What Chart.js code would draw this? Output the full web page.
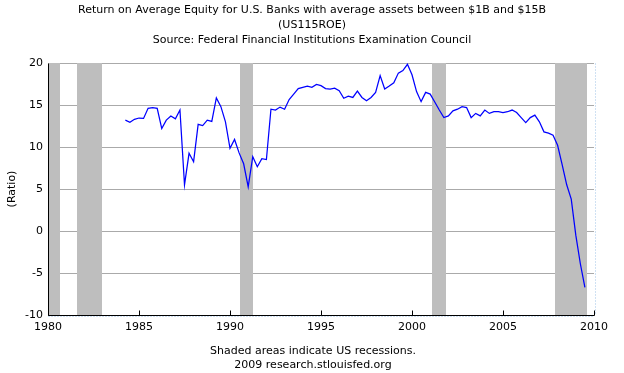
<!DOCTYPE html>
<html>
<head>
<meta charset="utf-8">
<script src="https://cdn.jsdelivr.net/npm/chart.js@4.4.1/dist/chart.umd.min.js"></script>
<style>
  html, body { margin: 0; padding: 0; background: #fff; }
  #wrap { width: 624px; height: 373px; }
</style>
</head>
<body>
<div id="wrap"><canvas id="roeChart" width="624" height="373"></canvas></div>
<script>
// Return on average equity (ratio), quarterly, 1984 Q1 .. 2009 Q2
const firstYear = 1984;
const roe = [
  13.2, 12.95, 13.3, 13.45, 13.4, 14.6, 14.7, 14.6, 12.2, 13.2,
  13.7, 13.35, 14.4, 5.5, 9.25, 8.25, 12.7, 12.55, 13.2, 13.05,
  15.85, 14.8, 13.0, 9.85, 10.9, 9.3, 8.0, 5.25, 8.85, 7.65,
  8.6, 8.5, 14.5, 14.4, 14.75, 14.5, 15.65, 16.3, 16.95, 17.1,
  17.25, 17.1, 17.45, 17.3, 16.95, 16.9, 17.0, 16.7, 15.8, 16.05,
  15.9, 16.65, 15.9, 15.5, 15.9, 16.5, 18.5, 16.9, 17.25, 17.65,
  18.8, 19.1, 19.85, 18.6, 16.6, 15.4, 16.5, 16.3, 15.35, 14.4,
  13.5, 13.7, 14.3, 14.5, 14.8, 14.7, 13.5, 14.0, 13.7, 14.4,
  14.0, 14.2, 14.2, 14.1, 14.2, 14.4, 14.1, 13.5, 12.9, 13.5,
  13.8, 13.0, 11.8, 11.65, 11.4, 10.2, 7.9, 5.5, 3.8, -0.5,
  -3.9, -6.7
];

// US recessions (decimal years)
const recessionStart = [1980.0, 1981.6, 1990.55, 2001.1, 2007.86];
const recessionEnd   = [1980.65, 1982.95, 1991.25, 2001.85, 2009.64];

const xTicks = [1980, 1985, 1990, 1995, 2000, 2005, 2010];
const yTicks = [-10, -5, 0, 5, 10, 15, 20];

const titleLines = [
  'Return on Average Equity for U.S. Banks with average assets between $1B and $15B',
  '(US115ROE)',
  'Source: Federal Financial Institutions Examination Council'
];
const noteLines = [
  'Shaded areas indicate US recessions.',
  '2009 research.stlouisfed.org'
];

const FONT = '"DejaVu Sans", Verdana, sans-serif';

// points sit at the end of each quarter
const points = roe.map((v, i) => ({ x: firstYear + (i + 1) / 4, y: v }));

const recessionBands = {
  id: 'recessionBands',
  beforeDatasetsDraw(chart) {
    const { ctx, chartArea, scales: { x } } = chart;
    ctx.save();
    ctx.fillStyle = '#bebebe';
    recessionStart.forEach((s, i) => {
      const x0 = Math.round(x.getPixelForValue(s));
      const x1 = Math.round(x.getPixelForValue(recessionEnd[i]));
      ctx.fillRect(x0, chartArea.top, x1 - x0, chartArea.bottom - chartArea.top);
    });
    ctx.restore();
  }
};

const frame = {
  id: 'frame',
  afterDatasetsDraw(chart) {
    const { ctx, chartArea: a, scales: { x } } = chart;
    const L = Math.round(a.left) + 0.5, R = Math.round(a.right) + 0.5;
    const T = Math.round(a.top) + 0.5, B = Math.round(a.bottom) + 0.5;
    ctx.save();
    // dotted light blue edge lines
    ctx.strokeStyle = '#9fc2e6';
    ctx.lineWidth = 1;
    ctx.setLineDash([1, 2]);
    ctx.beginPath();
    ctx.moveTo(R + 1, T); ctx.lineTo(R + 1, B);
    ctx.moveTo(L, B + 1); ctx.lineTo(R, B + 1);
    ctx.stroke();
    ctx.setLineDash([]);
    // axes
    ctx.strokeStyle = '#000';
    ctx.beginPath();
    ctx.moveTo(L, T); ctx.lineTo(L, B); ctx.lineTo(R, B);
    // inward tick marks
    xTicks.forEach(t => {
      const px = Math.round(x.getPixelForValue(t)) + 0.5;
      ctx.moveTo(px, B); ctx.lineTo(px, B - 5);
    });
    ctx.stroke();
    ctx.restore();
  }
};

const texts = {
  id: 'texts',
  afterDraw(chart) {
    const { ctx } = chart;
    ctx.save();
    ctx.fillStyle = '#000';
    ctx.font = '11px ' + FONT;
    ctx.textAlign = 'center';
    ctx.textBaseline = 'middle';
    titleLines.forEach((t, i) => ctx.fillText(t, 312, 10 + i * 15));
    noteLines.forEach((t, i) => ctx.fillText(t, 313, 351 + i * 14));
    ctx.restore();
  }
};

new Chart(document.getElementById('roeChart'), {
  type: 'line',
  data: {
    datasets: [{
      label: 'US115ROE',
      data: points,
      borderColor: '#0000ff',
      borderWidth: 1.25,
      pointRadius: 0,
      tension: 0,
      fill: false
    }]
  },
  options: {
    responsive: false,
    animation: false,
    devicePixelRatio: 1,
    layout: { padding: { top: 63, right: 30, left: 0, bottom: 0 } },
    plugins: {
      legend: { display: false },
      tooltip: { enabled: false },
      title: { display: false }
    },
    scales: {
      x: {
        type: 'linear',
        min: 1980,
        max: 2010,
        afterBuildTicks: s => { s.ticks = xTicks.map(v => ({ value: v })); },
        afterFit: s => { s.height = 58; },
        grid: { display: false, drawTicks: false },
        border: { display: false },
        ticks: {
          color: '#000',
          padding: 6,
          maxRotation: 0,
          font: { family: FONT, size: 11 },
          callback: v => String(v)
        }
      },
      y: {
        min: -10,
        max: 20,
        afterBuildTicks: s => { s.ticks = yTicks.map(v => ({ value: v })); },
        afterFit: s => { s.width = 48; },
        grid: { color: '#aaaaaa', drawTicks: false },
        border: { display: false },
        ticks: {
          color: '#000',
          padding: 5,
          font: { family: FONT, size: 11 },
          callback: v => String(v)
        },
        title: {
          display: true,
          text: '(Ratio)',
          color: '#000',
          font: { family: FONT, size: 11 },
          padding: { top: 6, bottom: 0 }
        }
      }
    }
  },
  plugins: [recessionBands, frame, texts]
});
</script>
</body>
</html>
